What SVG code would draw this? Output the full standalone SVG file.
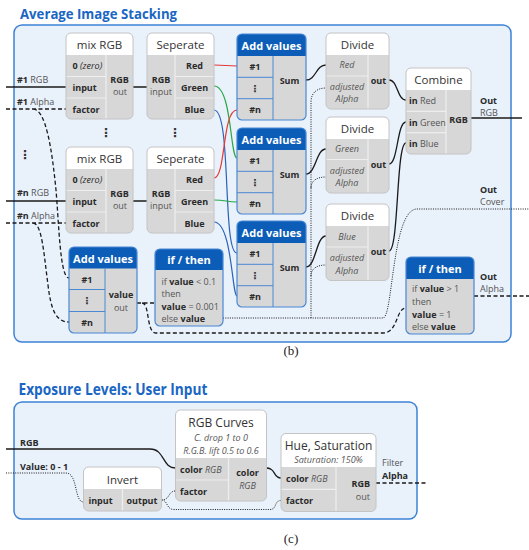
<svg xmlns="http://www.w3.org/2000/svg" width="529" height="550" viewBox="0 0 529 550">
<style>
text{font-family:'Open Sans','Liberation Sans',sans-serif}
.ttl{font-size:15px;font-weight:700;fill:#1a66c4}
.panel{fill:#e9f1fb;stroke:#3d82d6;stroke-width:1.5}
.gb{fill:#d7d7d7}
.go{fill:none;stroke:#c4c4c4;stroke-width:1}
.bo{fill:none;stroke:#4a88d4;stroke-width:1.2}
.hw{fill:#fff}
.hb{fill:#0b5db8}
.sep{fill:none;stroke:#eeeeee;stroke-width:1.2}
.bsep{fill:none;stroke:#4a88d4;stroke-width:1}
.nt{font-size:11.5px;fill:#333;text-anchor:middle}
.lb{font-size:9px;font-weight:700;fill:#2a2a2a}
.rg{font-size:9px;fill:#555}
.b{font-weight:700;fill:#2a2a2a}
.it{font-style:italic}
.c{text-anchor:middle}
.e{text-anchor:end}
.hd{font-size:11px;font-weight:700;fill:#fff;text-anchor:middle}
.dots{font-family:'DejaVu Sans',sans-serif;font-size:10px;font-weight:700;fill:#333;text-anchor:middle}
.cap{font-family:'Liberation Serif',serif;font-size:13px;fill:#222;text-anchor:middle}
.sl{fill:none;stroke:#1a1a1a;stroke-width:1.3}
.dl{fill:none;stroke:#1a1a1a;stroke-width:1.3;stroke-dasharray:4 2.5}
.ol{fill:none;stroke:#1a1a1a;stroke-width:1;stroke-dasharray:1 1.3}
.red{fill:none;stroke:#e53935;stroke-width:1.2}
.grn{fill:none;stroke:#26a844;stroke-width:1.2}
.blu{fill:none;stroke:#2962b8;stroke-width:1.2}
</style>

<!-- Panel b -->
<text class="ttl" x="20" y="18.5" textLength="157" lengthAdjust="spacingAndGlyphs">Average Image Stacking</text>
<rect class="panel" x="14" y="25" width="497" height="317" rx="8"/>

<!-- Panel c -->
<text class="ttl" x="18.5" y="395" style="font-size:16px" textLength="189" lengthAdjust="spacingAndGlyphs">Exposure Levels: User Input</text>
<rect class="panel" x="14" y="402" width="403" height="117" rx="8"/>

<text class="cap" x="291" y="355">(b)</text>
<text class="cap" x="291" y="543">(c)</text>

<!-- connectors -->
<g id="connectors">
  <path class="sl" d="M6,87 H66 M133,87 H147 M6,201 H66 M133,201 H147"/>
  <path class="sl" d="M306,80 C316,80 316,65 326,65"/>
  <path class="sl" d="M306,174 C316,174 316,149 326,149"/>
  <path class="sl" d="M306,267 C316,267 316,236 326,236"/>
  <path class="sl" d="M389,80 C398,80 397,100 406,100"/>
  <path class="sl" d="M389,164 C398,164 397,122 406,122"/>
  <path class="sl" d="M389,251 C399,251 396,143 406,143"/>
  <path class="sl" d="M471,118 H522"/>
  <path class="red" d="M214,65 C226,65 226,66 237,66"/>
  <path class="grn" d="M214,86 C232,86 230,158 237,158"/>
  <path class="blu" d="M214,110 C232,110 222,253 237,253"/>
  <path class="red" d="M214,178 C226,178 222,110 237,110"/>
  <path class="grn" d="M214,200 C226,200 226,202 237,202"/>
  <path class="blu" d="M214,222 C232,222 232,296 237,296"/>
  <path class="dl" d="M6,109 H66 M33,109 C46,109 52,150 56,190 C59,225 60,278 69,278"/>
  <path class="dl" d="M6,223 H66 M33,223 C42,223 44,255 48,285 C51,310 56,322 69,322"/>
  <path class="dl" d="M137,303 H155 M142,303 C150,303 146,333 156,333 H383 C398,333 396,308 406,308"/>
  <path class="dl" d="M474,296 H529"/>
  <path class="ol" d="M223,318 H383 C393,318 392,209 417,209 H529"/>
  <path class="ol" d="M311,318 V102 C311,92 318,88 326,88"/>
  <path class="ol" d="M311,188 C311,180 318,177 326,177"/>
  <path class="ol" d="M311,276 C311,268 318,265 326,265"/>
  <!-- panel c -->
  <path class="sl" d="M6,449 H150 C165,449 162,468 175.5,468"/>
  <path class="ol" d="M6,473 H66 C78,473 74,502 83.5,502"/>
  <path class="ol" d="M161.5,500 C170,500 168,491 175.5,491"/>
  <path class="ol" d="M161.5,500 C168,500 166,509.5 174,509.5 H270 C277,509.5 274,500.5 281,500.5"/>
  <path class="sl" d="M266.5,468 C276,468 273,478 281,478"/>
  <path class="dl" d="M376,483 H427"/>
</g>

<!-- free labels -->
<g id="labels">
  <text class="rg" x="17" y="83"><tspan class="b">#1</tspan> RGB</text>
  <text class="rg" x="17" y="104.5"><tspan class="b">#1</tspan> Alpha</text>
  <text class="rg" x="17" y="196"><tspan class="b">#n</tspan> RGB</text>
  <text class="rg" x="17" y="218.5"><tspan class="b">#n</tspan> Alpha</text>
  <text class="dots" style="font-size:12px" x="25" y="159">⋮</text>
  <text class="dots" style="font-size:12px" x="106" y="137">⋮</text>
  <text class="dots" style="font-size:12px" x="175" y="137">⋮</text>
  <text class="rg" x="480" y="103.5"><tspan class="b">Out</tspan></text>
  <text class="rg" x="480" y="116">RGB</text>
  <text class="rg" x="480" y="192.5"><tspan class="b">Out</tspan></text>
  <text class="rg" x="480" y="205">Cover</text>
  <text class="rg" x="480" y="279.5"><tspan class="b">Out</tspan></text>
  <text class="rg" x="480" y="292">Alpha</text>
  <text class="lb" x="20" y="445.5">RGB</text>
  <text class="lb" x="20" y="469.5">Value: 0 - 1</text>
  <text class="rg" x="382" y="465.5">Filter</text>
  <text class="lb" x="382" y="479">Alpha</text>
</g>

<!-- mix RGB 1 -->
<g id="mix1">
  <rect class="gb" x="66" y="33" width="67" height="86" rx="5"/>
  <path class="hw" d="M66,55 V38 a5,5 0 0 1 5,-5 H128 a5,5 0 0 1 5,5 V55 Z"/>
  <path class="sep" d="M66,76.5 H106 M66,98 H106 M106,55 V119"/>
  <rect class="go" x="66" y="33" width="67" height="86" rx="5"/>
  <text class="nt" x="99.5" y="49">mix RGB</text>
  <text class="lb" x="72.5" y="69">0 <tspan class="it" style="font-weight:400">(zero)</tspan></text>
  <text class="lb" x="72.5" y="91">input</text>
  <text class="lb" x="72.5" y="113">factor</text>
  <text class="lb c" x="119.5" y="82.5">RGB</text>
  <text class="rg c" x="120" y="95">out</text>
</g>
<!-- mix RGB 2 -->
<g id="mix2">
  <rect class="gb" x="66" y="147" width="67" height="86" rx="5"/>
  <path class="hw" d="M66,169 V152 a5,5 0 0 1 5,-5 H128 a5,5 0 0 1 5,5 V169 Z"/>
  <path class="sep" d="M66,190.5 H106 M66,212 H106 M106,169 V233"/>
  <rect class="go" x="66" y="147" width="67" height="86" rx="5"/>
  <text class="nt" x="99.5" y="163">mix RGB</text>
  <text class="lb" x="72.5" y="183">0 <tspan class="it" style="font-weight:400">(zero)</tspan></text>
  <text class="lb" x="72.5" y="205">input</text>
  <text class="lb" x="72.5" y="227">factor</text>
  <text class="lb c" x="119.5" y="196.5">RGB</text>
  <text class="rg c" x="120" y="209">out</text>
</g>
<!-- Seperate 1 -->
<g id="sep1">
  <rect class="gb" x="147" y="33" width="67" height="86" rx="5"/>
  <path class="hw" d="M147,55 V38 a5,5 0 0 1 5,-5 H209 a5,5 0 0 1 5,5 V55 Z"/>
  <path class="sep" d="M175,76.5 H214 M175,98 H214 M175,55 V119"/>
  <rect class="go" x="147" y="33" width="67" height="86" rx="5"/>
  <text class="nt" x="180.5" y="49">Seperate</text>
  <text class="lb c" x="161" y="82.5">RGB</text>
  <text class="rg c" x="161" y="95">input</text>
  <text class="lb c" x="194.5" y="69">Red</text>
  <text class="lb c" x="194.5" y="91">Green</text>
  <text class="lb c" x="194.5" y="113">Blue</text>
</g>
<!-- Seperate 2 -->
<g id="sep2">
  <rect class="gb" x="147" y="147" width="67" height="86" rx="5"/>
  <path class="hw" d="M147,169 V152 a5,5 0 0 1 5,-5 H209 a5,5 0 0 1 5,5 V169 Z"/>
  <path class="sep" d="M175,190.5 H214 M175,212 H214 M175,169 V233"/>
  <rect class="go" x="147" y="147" width="67" height="86" rx="5"/>
  <text class="nt" x="180.5" y="163">Seperate</text>
  <text class="lb c" x="161" y="196.5">RGB</text>
  <text class="rg c" x="161" y="209">input</text>
  <text class="lb c" x="194.5" y="183">Red</text>
  <text class="lb c" x="194.5" y="205">Green</text>
  <text class="lb c" x="194.5" y="227">Blue</text>
</g>
<!-- Add values 1 -->
<g id="add1">
  <rect class="gb" x="237" y="34" width="69" height="86" rx="5"/>
  <path class="hb" d="M237,56 V39 a5,5 0 0 1 5,-5 H301 a5,5 0 0 1 5,5 V56 Z"/>
  <path class="bsep" d="M237,77.3 H273 M237,98.7 H273 M273,56 V120"/>
  <rect class="bo" x="237" y="34" width="69" height="86" rx="5"/>
  <text class="hd" x="271.5" y="50">Add values</text>
  <text class="lb c" x="255" y="70">#1</text>
  <text class="dots" x="255" y="92">⋮</text>
  <text class="lb c" x="255" y="113">#n</text>
  <text class="lb c" x="289.5" y="84">Sum</text>
</g>
<!-- Add values 2 -->
<g id="add2">
  <rect class="gb" x="237" y="128" width="69" height="86" rx="5"/>
  <path class="hb" d="M237,150 V133 a5,5 0 0 1 5,-5 H301 a5,5 0 0 1 5,5 V150 Z"/>
  <path class="bsep" d="M237,171.3 H273 M237,192.7 H273 M273,150 V214"/>
  <rect class="bo" x="237" y="128" width="69" height="86" rx="5"/>
  <text class="hd" x="271.5" y="144">Add values</text>
  <text class="lb c" x="255" y="164">#1</text>
  <text class="dots" x="255" y="186">⋮</text>
  <text class="lb c" x="255" y="207">#n</text>
  <text class="lb c" x="289.5" y="178">Sum</text>
</g>
<!-- Add values 3 -->
<g id="add3">
  <rect class="gb" x="237" y="221" width="69" height="86" rx="5"/>
  <path class="hb" d="M237,243 V226 a5,5 0 0 1 5,-5 H301 a5,5 0 0 1 5,5 V243 Z"/>
  <path class="bsep" d="M237,264.3 H273 M237,285.7 H273 M273,243 V307"/>
  <rect class="bo" x="237" y="221" width="69" height="86" rx="5"/>
  <text class="hd" x="271.5" y="237">Add values</text>
  <text class="lb c" x="255" y="257">#1</text>
  <text class="dots" x="255" y="279">⋮</text>
  <text class="lb c" x="255" y="300">#n</text>
  <text class="lb c" x="289.5" y="271">Sum</text>
</g>
<!-- Add values 4 (alpha) -->
<g id="add4">
  <rect class="gb" x="69" y="247" width="68" height="86" rx="5"/>
  <path class="hb" d="M69,268.5 V252 a5,5 0 0 1 5,-5 H132 a5,5 0 0 1 5,5 V268.5 Z"/>
  <path class="bsep" d="M69,289.5 H105 M69,311.5 H105 M105,268.5 V333"/>
  <rect class="bo" x="69" y="247" width="68" height="86" rx="5"/>
  <text class="hd" x="103" y="262.5">Add values</text>
  <text class="lb c" x="87" y="282.5">#1</text>
  <text class="dots" x="87" y="304">⋮</text>
  <text class="lb c" x="87" y="326">#n</text>
  <text class="lb c" x="121" y="298">value</text>
  <text class="rg c" x="121" y="310.5">out</text>
</g>
<!-- Divide 1 -->
<g id="div1">
  <rect class="gb" x="326" y="33" width="63" height="76" rx="5"/>
  <path class="hw" d="M326,55 V38 a5,5 0 0 1 5,-5 H384 a5,5 0 0 1 5,5 V55 Z"/>
  <path class="sep" d="M326,76 H368 M368,55 V109"/>
  <rect class="go" x="326" y="33" width="63" height="76" rx="5"/>
  <text class="nt" x="357.5" y="49">Divide</text>
  <text class="rg c it" x="347" y="68">Red</text>
  <text class="rg c it" x="347" y="89.5">adjusted</text>
  <text class="rg c it" x="347" y="102">Alpha</text>
  <text class="lb c" x="378.5" y="83.5">out</text>
</g>
<!-- Divide 2 -->
<g id="div2">
  <rect class="gb" x="326" y="117" width="63" height="76" rx="5"/>
  <path class="hw" d="M326,139 V122 a5,5 0 0 1 5,-5 H384 a5,5 0 0 1 5,5 V139 Z"/>
  <path class="sep" d="M326,159.5 H368 M368,139 V193"/>
  <rect class="go" x="326" y="117" width="63" height="76" rx="5"/>
  <text class="nt" x="357.5" y="133">Divide</text>
  <text class="rg c it" x="347" y="152">Green</text>
  <text class="rg c it" x="347" y="173.5">adjusted</text>
  <text class="rg c it" x="347" y="186">Alpha</text>
  <text class="lb c" x="378.5" y="167.5">out</text>
</g>
<!-- Divide 3 -->
<g id="div3">
  <rect class="gb" x="326" y="204" width="63" height="76.5" rx="5"/>
  <path class="hw" d="M326,226 V209 a5,5 0 0 1 5,-5 H384 a5,5 0 0 1 5,5 V226 Z"/>
  <path class="sep" d="M326,247 H368 M368,226 V280.5"/>
  <rect class="go" x="326" y="204" width="63" height="76.5" rx="5"/>
  <text class="nt" x="357.5" y="220">Divide</text>
  <text class="rg c it" x="347" y="239.5">Blue</text>
  <text class="rg c it" x="347" y="261">adjusted</text>
  <text class="rg c it" x="347" y="273.5">Alpha</text>
  <text class="lb c" x="378.5" y="254.5">out</text>
</g>
<!-- Combine -->
<g id="combine">
  <rect class="gb" x="406" y="68" width="65" height="86" rx="5"/>
  <path class="hw" d="M406,90 V73 a5,5 0 0 1 5,-5 H466 a5,5 0 0 1 5,5 V90 Z"/>
  <path class="sep" d="M406,111.3 H446 M406,132.7 H446 M446,90 V154"/>
  <rect class="go" x="406" y="68" width="65" height="86" rx="5"/>
  <text class="nt" x="438.5" y="84">Combine</text>
  <text class="rg" x="409" y="104"><tspan class="b">in</tspan> Red</text>
  <text class="rg" x="409" y="125.5"><tspan class="b">in</tspan> Green</text>
  <text class="rg" x="409" y="147"><tspan class="b">in</tspan> Blue</text>
  <text class="lb c" x="458.5" y="123">RGB</text>
</g>
<!-- if/then left -->
<g id="if1">
  <rect class="gb" x="155" y="249" width="68" height="77" rx="5"/>
  <path class="hb" d="M155,270 V254 a5,5 0 0 1 5,-5 H218 a5,5 0 0 1 5,5 V270 Z"/>
  <rect class="bo" x="155" y="249" width="68" height="77" rx="5"/>
  <text class="hd" x="189" y="264">if / then</text>
  <text class="rg" x="161.5" y="284.5">if  <tspan class="b">value</tspan> &lt; 0.1</text>
  <text class="rg" x="161.5" y="297">then</text>
  <text class="rg" x="161.5" y="309.5"><tspan class="b">value</tspan> = 0.001</text>
  <text class="rg" x="161.5" y="322">else <tspan class="b">value</tspan></text>
</g>
<!-- if/then right -->
<g id="if2">
  <rect class="gb" x="406" y="257" width="68" height="77" rx="5"/>
  <path class="hb" d="M406,279 V262 a5,5 0 0 1 5,-5 H469 a5,5 0 0 1 5,5 V279 Z"/>
  <rect class="bo" x="406" y="257" width="68" height="77" rx="5"/>
  <text class="hd" x="440" y="272.5">if / then</text>
  <text class="rg" x="412" y="292">if <tspan class="b">value</tspan> &gt; 1</text>
  <text class="rg" x="412" y="304.5">then</text>
  <text class="rg" x="412" y="317.5"><tspan class="b">value</tspan> = 1</text>
  <text class="rg" x="412" y="330">else <tspan class="b">value</tspan></text>
</g>
<!-- Invert -->
<g id="invert">
  <rect class="gb" x="83.5" y="467" width="78" height="44" rx="5"/>
  <path class="hw" d="M83.5,489 V472 a5,5 0 0 1 5,-5 H156.5 a5,5 0 0 1 5,5 V489 Z"/>
  <path class="sep" d="M122.5,489 V511"/>
  <rect class="go" x="83.5" y="467" width="78" height="44" rx="5"/>
  <text class="nt" x="122.5" y="483.5">Invert</text>
  <text class="lb c" x="100.5" y="504">input</text>
  <text class="lb c" x="142" y="504">output</text>
</g>
<!-- RGB Curves -->
<g id="curves">
  <rect class="gb" x="175.5" y="410" width="91" height="91" rx="5"/>
  <path class="hw" d="M175.5,458 V415 a5,5 0 0 1 5,-5 H261.5 a5,5 0 0 1 5,5 V458 Z"/>
  <path class="sep" d="M175.5,480 H228.5 M228.5,458 V501"/>
  <rect class="go" x="175.5" y="410" width="91" height="91" rx="5"/>
  <text class="nt" x="221" y="427" style="font-size:12px">RGB Curves</text>
  <text class="rg c it" x="221" y="441">C. drop  1 to 0</text>
  <text class="rg c it" x="221" y="454">R.G.B. lift 0.5 to 0.6</text>
  <text class="lb" x="180" y="472.5">color <tspan class="it" style="font-weight:400;fill:#555">RGB</tspan></text>
  <text class="lb" x="180" y="494.5">factor</text>
  <text class="lb c" x="247.5" y="476">color</text>
  <text class="rg c it" x="247.5" y="488.5">RGB</text>
</g>
<!-- Hue, Saturation -->
<g id="huesat">
  <rect class="gb" x="281" y="433.5" width="95" height="78" rx="5"/>
  <path class="hw" d="M281,467 V438.5 a5,5 0 0 1 5,-5 H371 a5,5 0 0 1 5,5 V467 Z"/>
  <path class="sep" d="M281,489.3 H336 M336,467 V511.5"/>
  <rect class="go" x="281" y="433.5" width="95" height="78" rx="5"/>
  <text class="nt" x="328.5" y="449.5" style="font-size:12px">Hue, Saturation</text>
  <text class="rg c it" x="328.5" y="462.5">Saturation: 150%</text>
  <text class="lb" x="286" y="481.5">color <tspan class="it" style="font-weight:400;fill:#555">RGB</tspan></text>
  <text class="lb" x="286" y="504">factor</text>
  <text class="lb e" x="370" y="487">RGB</text>
  <text class="rg e" x="370" y="500">out</text>
</g>
</svg>
